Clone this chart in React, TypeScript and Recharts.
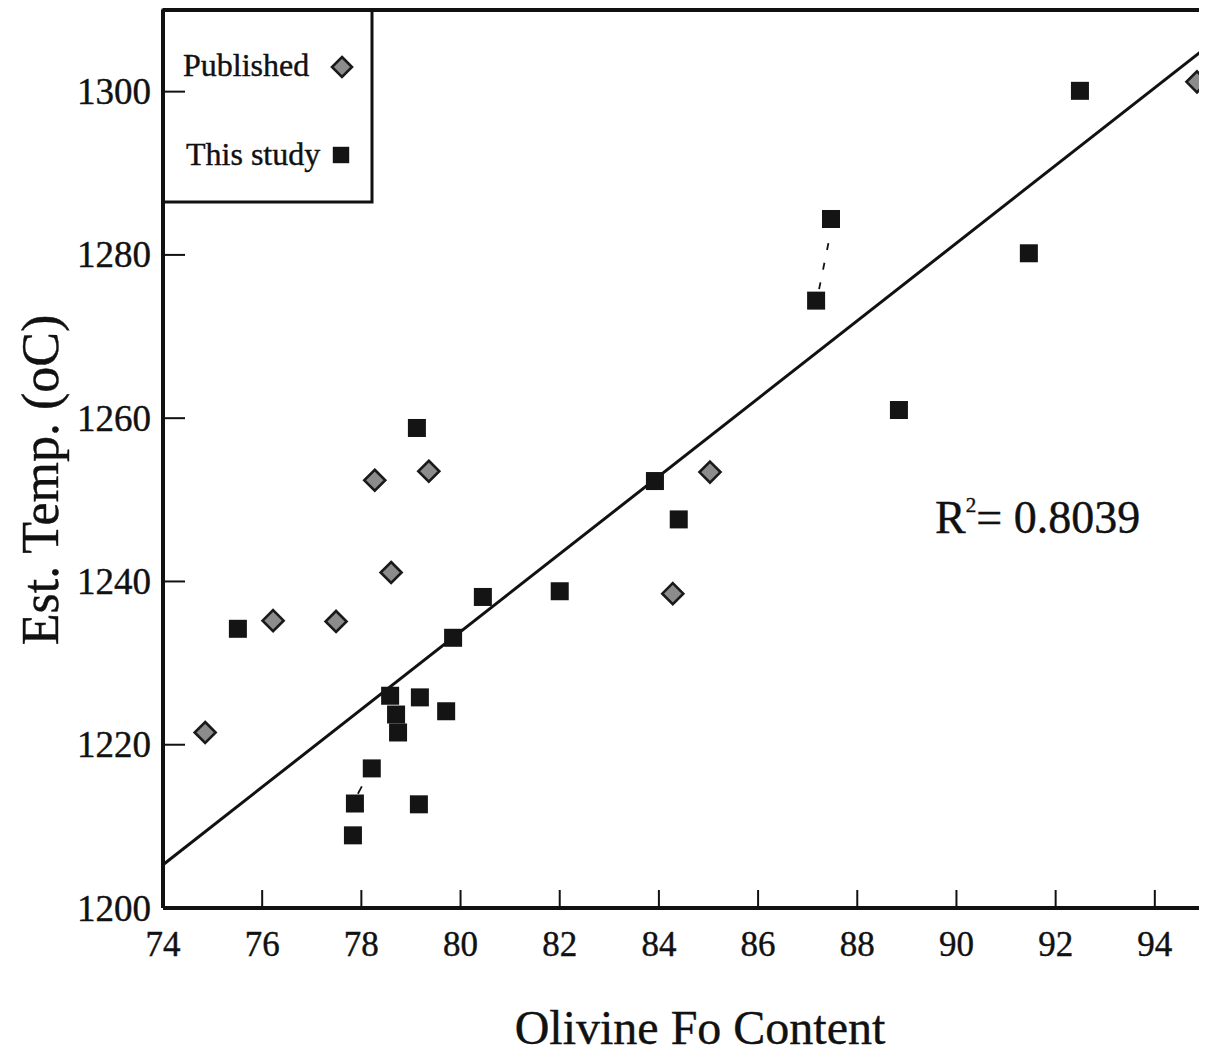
import React from 'react';
import { ScatterChart, Scatter, XAxis, YAxis, ReferenceLine, Customized } from 'recharts';

const FONT = '"Liberation Serif", "Times New Roman", serif';

const publishedFo = [74.85, 76.22, 77.49, 78.27, 78.6, 79.36, 84.28, 85.03, 94.85];
const publishedT = [1221.5, 1235.2, 1235.1, 1252.4, 1241.1, 1253.5, 1238.5, 1253.4, 1301.2];

const studyFo = [75.51, 79.12, 79.85, 80.45, 78.58, 79.18, 78.7, 78.74, 79.71, 78.21, 77.87, 77.83, 79.16, 82.0, 83.92, 84.4, 87.17, 87.47, 88.84, 91.46, 92.49];
const studyT = [1234.2, 1258.8, 1233.1, 1238.1, 1226.0, 1225.8, 1223.7, 1221.5, 1224.1, 1217.1, 1212.8, 1208.9, 1212.7, 1238.8, 1252.3, 1247.6, 1274.4, 1284.4, 1261.0, 1280.2, 1300.1];

const xTicks = [74, 76, 78, 80, 82, 84, 86, 88, 90, 92, 94];
const yTicks = [1200, 1220, 1240, 1260, 1280, 1300];

const fitLine = [{ x: 74, y: 1205.3 }, { x: 96, y: 1310 }];
const dashedLink = [{ x: 87.23, y: 1275.8 }, { x: 87.43, y: 1281.8 }];
const shortLink = [{ x: 77.93, y: 1214.0 }, { x: 78.01, y: 1214.9 }];

const published = publishedFo.map((fo, i) => ({ fo, t: publishedT[i] }));
const study = studyFo.map((fo, i) => ({ fo, t: studyT[i] }));

const Diamond = (props: any) => {
  const { cx, cy } = props;
  const r = 10.5;
  return (
    <polygon
      points={`${cx},${cy - r} ${cx + r},${cy} ${cx},${cy + r} ${cx - r},${cy}`}
      fill="#8c8c8c"
      stroke="#1a1a1a"
      strokeWidth={2.6}
    />
  );
};

const Square = (props: any) => {
  const { cx, cy } = props;
  const s = 18;
  return <rect x={cx - s / 2} y={cy - s / 2} width={s} height={s} fill="#141414" />;
};

const XTick = (props: any) => {
  const { x, y, payload } = props;
  return (
    <g>
      <line x1={x} x2={x} y1={y} y2={y - 18} stroke="#111" strokeWidth={2} />
      <text x={x} y={y + 48} textAnchor="middle" fontSize={35} fontFamily={FONT} fill="#111" stroke="#111" strokeWidth={0.4}>
        {payload.value}
      </text>
    </g>
  );
};

const YTick = (props: any) => {
  const { x, y, payload } = props;
  return (
    <g>
      <line x1={x} x2={x + 22} y1={y} y2={y} stroke="#111" strokeWidth={2} />
      <text x={x - 12} y={y + 12.5} textAnchor="end" fontSize={37} fontFamily={FONT} fill="#111" stroke="#111" strokeWidth={0.4}>
        {payload.value}
      </text>
    </g>
  );
};

const Overlay = () => (
  <g fontFamily={FONT} fill="#111" stroke="#111" strokeWidth={0.4}>
    <rect x={155} y={2} width={209} height={192} fill="#fff" stroke="#111" strokeWidth={3} />
    <text x={175} y={68} fontSize={32}>Published</text>
    <polygon points="334,49 344,59 334,69 324,59" fill="#8c8c8c" stroke="#1a1a1a" strokeWidth={2.6} />
    <text x={178} y={157} fontSize={32}>This study</text>
    <rect x={325} y={139} width={16} height={16} fill="#141414" />
    <text x={927} y={525} fontSize={46}>
      R<tspan dy={-21} fontSize={21}>2</tspan>
      <tspan dy={21}>= 0.8039</tspan>
    </text>
    <text
      x={0}
      y={0}
      fontSize={52}
      textAnchor="middle"
      transform="translate(50,472) rotate(-90)"
    >
      Est. Temp. (oC)
    </text>
    <text x={692} y={1036} fontSize={48} textAnchor="middle">Olivine Fo Content</text>
  </g>
);

export default function App() {
  return (
    <div style={{ width: 1199, height: 1045, overflow: 'hidden', background: '#fff' }}>
      <ScatterChart width={1256} height={1045} margin={{ top: 2, right: 10, left: 0, bottom: 0 }}>
        <XAxis
          type="number"
          dataKey="fo"
          domain={[74, 96]}
          ticks={xTicks}
          interval={0}
          height={145}
          tickSize={0}
          tickMargin={0}
          tickLine={false}
          tick={<XTick />}
          axisLine={{ stroke: '#111', strokeWidth: 4 }}
          allowDataOverflow
        />
        <YAxis
          type="number"
          dataKey="t"
          domain={[1200, 1310]}
          ticks={yTicks}
          interval={0}
          width={155}
          tickSize={0}
          tickMargin={0}
          tickLine={false}
          tick={<YTick />}
          axisLine={{ stroke: '#111', strokeWidth: 4 }}
          allowDataOverflow
        />
        <ReferenceLine y={1310} stroke="#111" strokeWidth={4} />
        <ReferenceLine segment={fitLine} stroke="#111" strokeWidth={3} />
        <ReferenceLine segment={dashedLink} stroke="#111" strokeWidth={1.8} strokeDasharray="7 13" />
        <ReferenceLine segment={shortLink} stroke="#111" strokeWidth={1.8} />
        <Scatter data={study} shape={<Square />} isAnimationActive={false} />
        <Scatter data={published} shape={<Diamond />} isAnimationActive={false} />
        <Customized component={Overlay} />
      </ScatterChart>
    </div>
  );
}
